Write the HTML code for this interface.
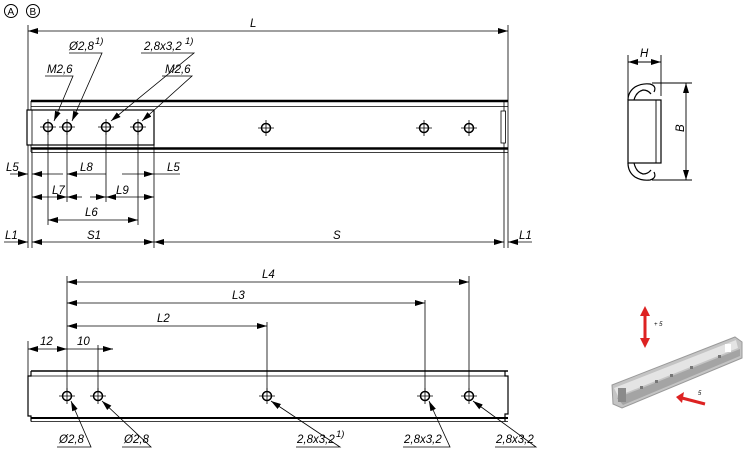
<!DOCTYPE html>
<html><head><meta charset="utf-8"><style>
html,body{margin:0;padding:0;background:#fff}
svg{display:block}
text{font-family:"Liberation Sans",sans-serif;font-style:italic;font-size:11.5px;fill:#000;stroke:none}
</style></head><body>
<svg width="750" height="452" viewBox="0 0 750 452" xmlns="http://www.w3.org/2000/svg">
<defs>
<marker id="a" viewBox="0 0 10 6" refX="10" refY="3" markerWidth="10" markerHeight="6" orient="auto-start-reverse" markerUnits="userSpaceOnUse"><path d="M0,0L10,3L0,6z" fill="#000" stroke="none"/></marker>
<g id="h"><circle r="4.5" fill="#fff" stroke="#000" stroke-width="1.5"/><path d="M-8,0H8M0,-8V8" stroke="#000" stroke-width="0.8"/></g>
</defs>
<circle cx="11" cy="11" r="6.5" fill="none" stroke="#000"/><text x="7.5" y="15" style="font-style:normal;font-size:10px">A</text>
<circle cx="33" cy="11" r="6.5" fill="none" stroke="#000"/><text x="29.5" y="15" style="font-style:normal;font-size:10px">B</text>

<g stroke="#000" fill="none" stroke-width="0.8">
<path d="M28,25V248M32,150V248M508,25V248M504,150V248M154,145V248"/>
<path d="M28,31H508" marker-start="url(#a)" marker-end="url(#a)"/>
<path d="M31,101H508" stroke-width="2.5"/><path d="M31,106.5H508"/>
<path d="M31,148.5H508" stroke-width="2.5"/><path d="M31,152.5H508"/>
<path d="M31,101V152"/><path d="M504,101V152"/>
<rect x="501" y="111" width="4.5" height="32" fill="#fff"/>
<rect x="27" y="110" width="127" height="35" fill="#fff" stroke-width="1.2"/>
<path d="M32,110V145"/>
<path d="M48,127V225M67,127V202M106,127V202M138,127V225"/>
<path d="M45,76H73L54,121" marker-end="url(#a)"/><path d="M69,53H102L72,121" marker-end="url(#a)"/>
<path d="M141,53H194L111,121" marker-end="url(#a)"/><path d="M162,76H192L142,121" marker-end="url(#a)"/>
<path d="M10,174H28" marker-end="url(#a)"/><path d="M32,174H63" marker-start="url(#a)"/>
<path d="M67,174H106" marker-start="url(#a)"/><path d="M122,174H154" marker-end="url(#a)"/><path d="M154,174H180"/>
<path d="M32,197H67" marker-start="url(#a)" marker-end="url(#a)"/><path d="M67,197H82" marker-start="url(#a)"/>
<path d="M90,197H106" marker-end="url(#a)"/><path d="M106,197H154" marker-start="url(#a)" marker-end="url(#a)"/>
<path d="M48,220H138" marker-start="url(#a)" marker-end="url(#a)"/>
<path d="M4,242H28" marker-end="url(#a)"/><path d="M32,242H154" marker-start="url(#a)" marker-end="url(#a)"/>
<path d="M154,242H504" marker-start="url(#a)" marker-end="url(#a)"/><path d="M508,242H532" marker-start="url(#a)"/>
</g>
<text x="6" y="171">L5</text><text x="80" y="171">L8</text><text x="167" y="171">L5</text>
<text x="52" y="194">L7</text><text x="116" y="194">L9</text>
<text x="85" y="216">L6</text>
<use href="#h" x="48" y="127"/><use href="#h" x="67" y="127"/><use href="#h" x="106" y="127"/><use href="#h" x="138" y="127"/>
<use href="#h" x="266" y="128"/><use href="#h" x="424" y="128"/><use href="#h" x="469" y="128"/>
<text x="250" y="27">L</text>
<text x="69" y="50">Ø2,8</text><text x="95" y="44" style="font-size:9.5px">1)</text>
<text x="144" y="50">2,8x3,2</text><text x="185" y="44" style="font-size:9.5px">1)</text>
<text x="47" y="73">M2,6</text><text x="165" y="73">M2,6</text>
<text x="5" y="239">L1</text><text x="87" y="239">S1</text><text x="333" y="239">S</text><text x="519" y="239">L1</text>

<g stroke="#000" fill="none" stroke-width="0.9">
<path d="M628,55V100M661,55V96"/>
<path d="M628,62H661" marker-start="url(#a)" marker-end="url(#a)"/>
<path d="M652,83H692M652,180H692"/>
<path d="M686,83V180" marker-start="url(#a)" marker-end="url(#a)"/>
<rect x="628" y="100" width="33" height="63" stroke-width="1.2"/><path d="M656,100V163"/>
<path d="M628,100Q628,92 635,87Q642,83 650,84Q657,86 654,92M634,100Q636,92 643,90Q648,90 651,94" stroke-width="1.2"/>
<path d="M628,163Q628,172 635,177Q642,181 650,180Q657,178 654,172M634,163Q636,172 643,174Q648,174 651,170" stroke-width="1.2"/>
</g>
<text x="640" y="57">H</text>
<text x="680" y="136" transform="rotate(-90 680 132)">B</text>

<g stroke="#000" fill="none" stroke-width="0.8">
<path d="M67,276V396M98,345V396M267,322V396M425,300V396M469,276V396M28,341V416"/>
<path d="M67,282H469" marker-start="url(#a)" marker-end="url(#a)"/>
<path d="M67,303H425" marker-start="url(#a)" marker-end="url(#a)"/>
<path d="M67,326H267" marker-start="url(#a)" marker-end="url(#a)"/>
<path d="M28,349H67" marker-start="url(#a)" marker-end="url(#a)"/>
<path d="M67,349H113" marker-end="url(#a)"/><path d="M98,349H113"/>
<path d="M31,371H508" stroke-width="1.5"/><path d="M31,376H508"/>
<path d="M31,418H508" stroke-width="2"/><path d="M31,421.5H508"/>
<path d="M31,371V376H28V416H31V421.5" stroke-width="1.2"/>
<path d="M505,371V376H508V414H505V421.5" stroke-width="1.2"/>
<path d="M57,447H91L71,401" marker-end="url(#a)"/>
<path d="M122,447H151L102,401" marker-end="url(#a)"/>
<path d="M296,447H340L271,401" marker-end="url(#a)"/>
<path d="M403,447H450L429,401" marker-end="url(#a)"/>
<path d="M495,447H536L473,401" marker-end="url(#a)"/>
</g>
<use href="#h" x="67" y="396"/><use href="#h" x="98" y="396"/><use href="#h" x="267" y="396"/><use href="#h" x="425" y="396"/><use href="#h" x="469" y="396"/>
<text x="262" y="278">L4</text><text x="232" y="299">L3</text><text x="157" y="322">L2</text>
<text x="40" y="345">12</text><text x="77" y="345">10</text>
<text x="59" y="443">Ø2,8</text><text x="124" y="443">Ø2,8</text>
<text x="297" y="443">2,8x3,2</text><text x="336" y="437" style="font-size:9.5px">1)</text>
<text x="404" y="443">2,8x3,2</text><text x="496" y="443">2,8x3,2</text>

<g>
<polygon points="612,385 735,337 742,342 742,358 622,408 613,404" fill="#c4c4c4" stroke="#9a9a9a"/>
<polygon points="614,388 736,340 738,348 618,396" fill="#e4e4e4"/>
<polygon points="617,398 740,349 740,356 623,405" fill="#a4a4a4"/>
<g fill="#777"><rect x="640" y="386" width="3" height="3"/><rect x="655" y="380" width="3" height="3"/><rect x="670" y="374" width="3" height="3"/><rect x="690" y="366" width="3" height="3"/><rect x="718" y="355" width="3" height="3"/></g>
<rect x="618" y="388" width="8" height="14" fill="#8a8a8a"/>
<rect x="725" y="344" width="6" height="8" fill="#fff"/>
<path d="M645,312V343" stroke="#d22" stroke-width="3"/>
<polygon points="640,316 645,306 650,316" fill="#d22"/><polygon points="640,338 645,348 650,338" fill="#d22"/>
<path d="M682,398L705,404" stroke="#d22" stroke-width="3"/>
<polygon points="684,392 676,397 682,403" fill="#d22"/>
<text x="654" y="326" style="font-size:6px">+ 5</text>
<text x="698" y="395" style="font-size:6px">5</text>
</g>
</svg>
</body></html>
